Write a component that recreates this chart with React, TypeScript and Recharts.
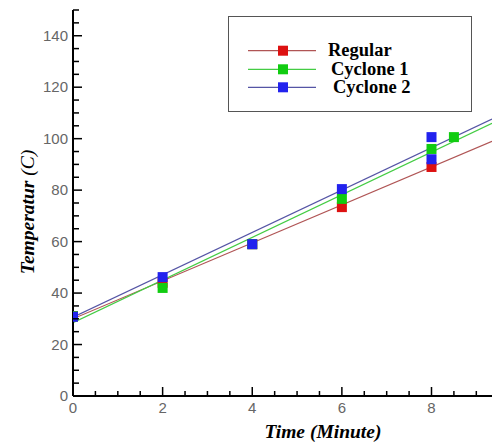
import React from 'react';
import { ComposedChart, Line, Scatter, XAxis, YAxis } from 'recharts';

const regularPoints = [
  { x: 0, y: 31 },
  { x: 2, y: 44 },
  { x: 4, y: 59 },
  { x: 6, y: 73.4 },
  { x: 8, y: 89 },
];
const cyclone1Points = [
  { x: 0, y: 31 },
  { x: 2, y: 42 },
  { x: 4, y: 59 },
  { x: 6, y: 76.6 },
  { x: 8, y: 96 },
  { x: 8.5, y: 100.6 },
];
const cyclone2Points = [
  { x: 0, y: 30.8 },
  { x: 2, y: 46.2 },
  { x: 4, y: 59 },
  { x: 6, y: 80.4 },
  { x: 8, y: 100.6 },
  { x: 8, y: 92 },
];

const regularFit = [
  { x: 0, y: 30 },
  { x: 9.35, y: 99 },
];
const cyclone1Fit = [
  { x: 0, y: 28.5 },
  { x: 9.35, y: 106 },
];
const cyclone2Fit = [
  { x: 0, y: 30.6 },
  { x: 9.35, y: 107.6 },
];

const xTicks = [0, 0.5, 1, 1.5, 2, 2.5, 3, 3.5, 4, 4.5, 5, 5.5, 6, 6.5, 7, 7.5, 8, 8.5, 9];
const xMajor = [0, 2, 4, 6, 8];
const yTicks = [0, 5, 10, 15, 20, 25, 30, 35, 40, 45, 50, 55, 60, 65, 70, 75, 80, 85, 90, 95, 100, 105, 110, 115, 120, 125, 130, 135, 140, 145, 150];
const yMajor = [0, 20, 40, 60, 80, 100, 120, 140];

const seriesNames = ['Regular', 'Cyclone 1', 'Cyclone 2'];
const markerColors = ['#dd1111', '#11cc11', '#2222ee'];
const lineColors = ['#b05555', '#44cc44', '#5555a5'];

const tickFont = "'Liberation Sans', Arial, sans-serif";
const serifFont = "'Liberation Serif', 'Times New Roman', serif";

const YTick = (props: any) => {
  const { x, y, payload } = props;
  const v = payload.value;
  const major = yMajor.includes(v);
  return (
    <g>
      <line x1={x + 5} x2={x + 5 + (major ? 9 : 6)} y1={y} y2={y} stroke="#000" strokeWidth={1.5} />
      {major && (
        <text x={x} y={y + 5} textAnchor="end" fill="#666" fontSize={15} fontFamily={tickFont}>
          {v}
        </text>
      )}
    </g>
  );
};

const XTick = (props: any) => {
  const { x, y, payload } = props;
  const v = payload.value;
  const major = xMajor.includes(v);
  return (
    <g>
      <line x1={x} x2={x} y1={y} y2={y - (major ? 9 : 5)} stroke="#000" strokeWidth={1.5} />
      {major && (
        <text x={x} y={y + 17} textAnchor="middle" fill="#666" fontSize={15} fontFamily={tickFont}>
          {v}
        </text>
      )}
    </g>
  );
};

const Square = (color: string) => (props: any) => {
  const { cx, cy } = props;
  if (cx == null || cy == null) return null;
  return <rect x={cx - 5} y={cy - 5} width={10} height={10} fill={color} />;
};

const LegendBox = () => {
  const rows = [33.7, 52.3, 70.3];
  const textX = [99, 102, 104];
  return (
    <div
      style={{
        position: 'absolute',
        left: 228,
        top: 16,
        width: 242,
        height: 94,
        border: '1.5px solid #555',
        background: '#fff',
        boxSizing: 'content-box',
      }}
    >
      <svg width={242} height={94} style={{ display: 'block' }}>
        {seriesNames.map((name, i) => (
          <g key={name}>
            <line x1={19} x2={87} y1={rows[i]} y2={rows[i]} stroke={lineColors[i]} strokeWidth={1.2} />
            <rect x={49} y={rows[i] - 5} width={10} height={10} fill={markerColors[i]} />
            <text
              x={textX[i]}
              y={rows[i] + 5.5}
              fontFamily={serifFont}
              fontWeight="bold"
              fontSize={18.5}
              fill="#000"
            >
              {name}
            </text>
          </g>
        ))}
      </svg>
    </div>
  );
};

const YLabel = (props: any) => {
  const vb = props.viewBox || { x: 0, y: 10 };
  const cx = vb.x + 27;
  const cy = vb.y + 202;
  return (
    <text
      x={cx}
      y={cy}
      transform={`rotate(-90, ${cx}, ${cy})`}
      textAnchor="middle"
      dominantBaseline="central"
      fontFamily={serifFont}
      fontSize={19.5}
      fontStyle="italic"
      fill="#000"
    >
      <tspan fontWeight="bold">Temperatur</tspan>
      <tspan> (C)</tspan>
    </text>
  );
};

const XLabel = (props: any) => {
  const vb = props.viewBox || { x: 73, y: 396 };
  return (
    <text
      x={vb.x + 250}
      y={vb.y + 42}
      textAnchor="middle"
      fontFamily={serifFont}
      fontSize={19.5}
      fontStyle="italic"
      fontWeight="bold"
      fill="#000"
    >
      Time (Minute)
    </text>
  );
};

export default function App() {
  const fits = [regularFit, cyclone1Fit, cyclone2Fit];
  const pts = [regularPoints, cyclone1Points, cyclone2Points];
  return (
    <div style={{ position: 'absolute', left: 0, top: 0, width: 492, height: 443, background: '#fff' }}>
      <ComposedChart width={492} height={443} margin={{ top: 10, right: 0, left: 0, bottom: 0 }}>
        <XAxis
          type="number"
          dataKey="x"
          domain={[0, 9.35]}
          ticks={xTicks}
          interval={0}
          allowDataOverflow
          height={47}
          tickSize={0}
          tickMargin={0}
          tickLine={false}
          axisLine={{ stroke: '#000', strokeWidth: 2 }}
          tick={<XTick />}
          label={<XLabel />}
        />
        <YAxis
          type="number"
          dataKey="y"
          domain={[0, 150]}
          ticks={yTicks}
          interval={0}
          allowDataOverflow
          width={73}
          tickSize={0}
          tickMargin={5}
          tickLine={false}
          axisLine={{ stroke: '#000', strokeWidth: 2 }}
          tick={<YTick />}
          label={<YLabel />}
        />
        {fits.map((d, i) => (
          <Line
            key={'fit' + i}
            data={d}
            dataKey="y"
            type="linear"
            stroke={lineColors[i]}
            strokeWidth={1.2}
            dot={false}
            activeDot={false}
            isAnimationActive={false}
            legendType="none"
          />
        ))}
        {pts.map((d, i) => (
          <Scatter
            key={'pts' + i}
            data={d}
            dataKey="y"
            name={seriesNames[i]}
            fill={markerColors[i]}
            shape={Square(markerColors[i])}
            isAnimationActive={false}
          />
        ))}
      </ComposedChart>
      <LegendBox />
    </div>
  );
}
